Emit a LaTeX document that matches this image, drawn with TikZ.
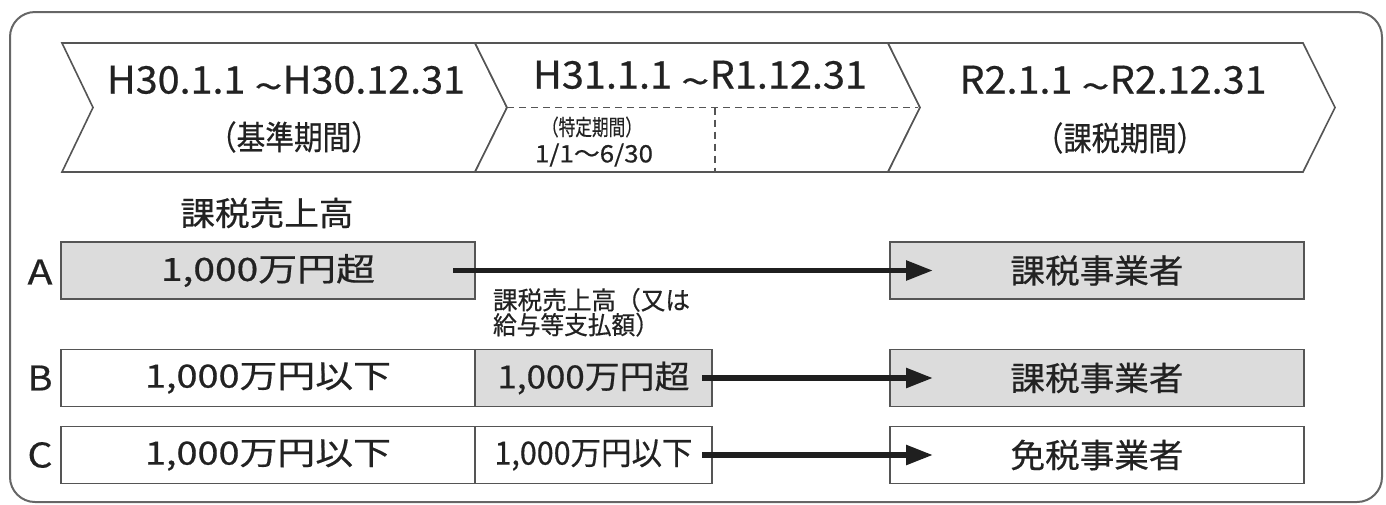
\documentclass[tikz,border=0pt]{standalone}
\usepackage{fontspec}
\setmainfont{Noto Sans CJK JP}[FakeBold=0.5]
\usepackage{graphicx}
\usetikzlibrary{arrows.meta}
\definecolor{ink}{HTML}{222222}
\definecolor{edge}{HTML}{555555}
\definecolor{boxgray}{HTML}{DCDCDC}
\newcommand{\fitw}[3]{{\fontsize{#2}{#2}\selectfont\resizebox{#1pt}{\height}{#3}}}
\newcommand{\wave}{\scalebox{1.3}[1]{\raisebox{-0.18em}{\textasciitilde}}}
\begin{document}
\begin{tikzpicture}[x=1pt,y=-1pt,
  txt/.style={inner sep=0pt, outer sep=0pt, text=ink},
  cell/.style={draw=edge, line width=1.8pt, minimum height=57pt, inner sep=0pt, outer sep=0pt, text=ink},
  graycell/.style={cell, fill=boxgray},
  widecell/.style={minimum width=414pt},
  midcell/.style={minimum width=237pt},
  flow/.style={line width=5.5pt, draw=black!88, -{Triangle[length=27pt,width=19pt]}},
  ribbon/.style={draw=edge, line width=1.6pt, fill=white, line join=miter},
  guide/.style={draw=edge, line width=1.4pt, dash pattern=on 7pt off 5pt},
  frame/.style={draw=edge!90, line width=2pt, rounded corners=25pt}]
\useasboundingbox (0,0) rectangle (1386,504);
\draw[frame] (10,12) rectangle (1382,502);

% header ribbon
\draw[ribbon] (62,43) -- (475,43) -- (507,107.5) -- (475,172) -- (62,172) -- (93,107.5) -- cycle;
\draw[ribbon] (475,43) -- (888,43) -- (920,107.5) -- (888,172) -- (475,172) -- (507,107.5) -- cycle;
\draw[ribbon] (888,43) -- (1303,43) -- (1335,107.5) -- (1303,172) -- (888,172) -- (920,107.5) -- cycle;
\draw[guide] (507,107.5) -- (918,107.5);
\draw[guide] (715,107.5) -- (715,171);

\node[txt] (h1) at (286,83) {\fitw{358}{38}{H30.1.1 \wave H30.12.31}};
\node[txt] (h1b) at (294,137) {\fitw{172}{33}{（基準期間）}};
\node[txt] (h2) at (700,78) {\fitw{334}{38}{H31.1.1 \wave R1.12.31}};
\node[txt] (h2b) at (592,127) {\fitw{100}{22}{（特定期間）}};
\node[txt] (h2c) at (594,155) {\fitw{118}{24}{1/1〜6/30}};
\node[txt] (h3) at (1113,83) {\fitw{307}{38}{R2.1.1 \wave R2.12.31}};
\node[txt] (h3b) at (1120,138) {\fitw{170}{33}{（課税期間）}};

\node[txt] (sales) at (267,213) {\fitw{173}{33}{課税売上高}};

% row labels
\node[txt] (la) at (40,272) {\fitw{25}{34}{A}};
\node[txt] (lb) at (40,378) {\fitw{25}{34}{B}};
\node[txt] (lc) at (40,455) {\fitw{25}{34}{C}};

% row A
\node[graycell, widecell] (a1) at (268,270.5) {\fitw{214}{32}{1,000万円超}};
\node[graycell, widecell] (a3) at (1097,270.5) {\fitw{173}{33}{課税事業者}};
\node[txt, anchor=north west, align=left] (note) at (493,288)
  {\fontsize{25}{30}\selectfont\resizebox{197pt}{\height}{課税売上高（又は}\\
   \fontsize{25}{30}\selectfont\resizebox{166pt}{\height}{給与等支払額）}};

% row B
\node[cell, widecell] (b1) at (268,378) {\fitw{246}{32}{1,000万円以下}};
\node[graycell, midcell] (b2) at (593.5,378) {\fitw{192}{32}{1,000万円超}};
\node[graycell, widecell] (b3) at (1097,378) {\fitw{173}{33}{課税事業者}};

% row C
\node[cell, widecell] (c1) at (268,455) {\fitw{246}{32}{1,000万円以下}};
\node[cell, midcell] (c2) at (593.5,455) {\fitw{198}{32}{1,000万円以下}};
\node[cell, widecell] (c3) at (1097,455) {\fitw{173}{33}{免税事業者}};

% arrows
\draw[flow] ([xshift=-22pt]a1.east) -- ([xshift=43pt]a3.west);
\draw[flow] ([xshift=-10pt]b2.east) -- ([xshift=43pt]b3.west);
\draw[flow] ([xshift=-10pt]c2.east) -- ([xshift=43pt]c3.west);
\end{tikzpicture}
\end{document}
